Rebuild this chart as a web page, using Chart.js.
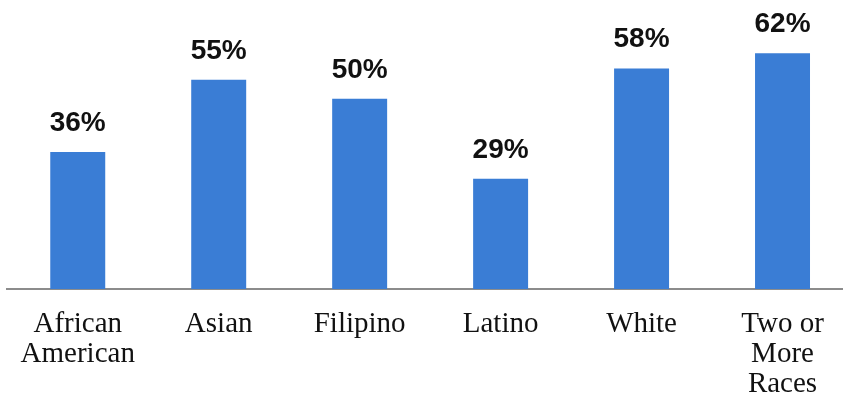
<!DOCTYPE html>
<html>
<head>
<meta charset="utf-8">
<script src="https://cdn.jsdelivr.net/npm/chart.js@4"></script>
<style>
    html, body { margin: 0; padding: 0; background: #fff; overflow: hidden; }
    #wrap { width: 855px; height: 440px; }
</style>
</head>
<body>
<div id="wrap"><canvas id="raceChart" width="855" height="440"></canvas></div>
<script>
// Данные графика
const categories = [
    ['African', 'American'],
    ['Asian'],
    ['Filipino'],
    ['Latino'],
    ['White'],
    ['Two or', 'More', 'Races']
];
const percentValues = [36, 55, 50, 29, 58, 62];
const valueLabels = ['36%', '55%', '50%', '29%', '58%', '62%'];

// Подписи значений над столбцами
const valueLabelPlugin = {
    id: 'valueLabels',
    afterDatasetsDraw(chart) {
        const ctx = chart.ctx;
        const meta = chart.getDatasetMeta(0);
        ctx.save();
        ctx.font = 'bold 28px "Liberation Sans", Arial, sans-serif';
        ctx.fillStyle = '#111';
        ctx.textAlign = 'center';
        ctx.textBaseline = 'alphabetic';
        meta.data.forEach((bar, i) => {
            ctx.fillText(valueLabels[i], bar.x, bar.y - 21);
        });
        ctx.restore();
    }
};

new Chart(document.getElementById('raceChart'), {
    type: 'bar',
    data: {
        labels: categories,
        datasets: [{
            data: percentValues,
            backgroundColor: '#3a7dd5',
            borderWidth: 0,
            barPercentage: 0.39,
            categoryPercentage: 1
        }]
    },
    options: {
        responsive: false,
        animation: false,
        layout: { padding: { left: 7, right: 2, top: 0, bottom: 21 } },
        plugins: {
            legend: { display: false },
            tooltip: { enabled: false }
        },
        scales: {
            x: {
                grid: { display: false, drawTicks: false },
                border: { display: true, color: '#8c8c8c', width: 2 },
                ticks: {
                    color: '#111',
                    padding: 20,
                    maxRotation: 0,
                    autoSkip: false,
                    font: { family: '"Liberation Serif", "Times New Roman", serif', size: 29, lineHeight: '30px' }
                }
            },
            y: {
                display: false,
                min: 0,
                max: 76
            }
        }
    },
    plugins: [valueLabelPlugin]
});
</script>
</body>
</html>
